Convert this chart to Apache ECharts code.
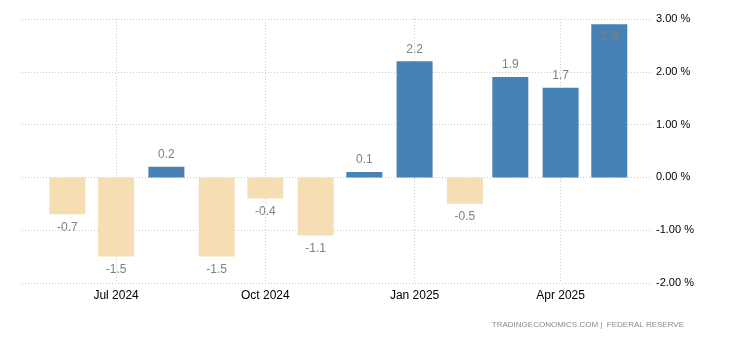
<!DOCTYPE html>
<html>
<head>
<meta charset="utf-8">
<script src="https://cdn.jsdelivr.net/npm/echarts@6/dist/echarts.min.js"></script>
<style>html,body{margin:0;padding:0;background:#fff}#c{width:730px;height:340px}</style>
</head>
<body>
<div id="c"></div>
<script>
var months = ['2024-06-01','2024-07-01','2024-08-01','2024-09-01','2024-10-01','2024-11-01','2024-12-01','2025-01-01','2025-02-01','2025-03-01','2025-04-01','2025-05-01'];
var values = [-0.7, -1.5, 0.2, -1.5, -0.4, -1.1, 0.1, 2.2, -0.5, 1.9, 1.7, 2.9];
var tickDates = ['2024-07-01','2024-10-01','2025-01-01','2025-04-01'];
var monthNames = ['Jan','Feb','Mar','Apr','May','Jun','Jul','Aug','Sep','Oct','Nov','Dec'];

function ts(s){var p=s.split('-');return Date.UTC(+p[0],+p[1]-1,+p[2]);}
var tickTs = tickDates.map(ts);
var data = months.map(function(m,i){
  var v = values[i];
  var item = {value:[ts(m), v], itemStyle:{color: v>=0 ? '#4682b4' : '#f5deb3'}};
  if (v > 2.6) item.label = {position:'insideTop', distance:6};
  else if (v < 0) item.label = {position:'bottom', distance:7};
  return item;
});

var chart = echarts.init(document.getElementById('c'));
chart.setOption({
  animation:false,
  grid:{left:22,right:78,top:19,bottom:57},
  xAxis:{
    type:'value',
    min: Date.UTC(2024,4,4),
    max: Date.UTC(2025,4,27,8),
    axisLine:{show:false},
    axisTick:{show:true,length:4,customValues:tickTs,lineStyle:{color:'#cccccc',type:[1,2]}},
    axisLabel:{customValues:tickTs,color:'#000',fontSize:12,fontFamily:'Liberation Sans, Arial',margin:7,
      formatter:function(v){var d=new Date(v);return monthNames[d.getUTCMonth()]+' '+d.getUTCFullYear();}},
    splitLine:{show:true,lineStyle:{color:'#cccccc',type:[1,2]}}
  },
  yAxis:{
    type:'value',position:'right',min:-2,max:3,interval:1,
    axisLine:{show:false},axisTick:{show:false},
    axisLabel:{color:'#000',fontSize:11,fontFamily:'Liberation Sans, Arial',margin:4,
      formatter:function(v){return v.toFixed(2)+' %';}},
    splitLine:{lineStyle:{color:'#cccccc',type:[1,2]}}
  },
  series:[{
    type:'bar',barWidth:36,data:data,
    label:{show:true,position:'top',distance:6,color:'#808080',fontSize:12,fontFamily:'Liberation Sans, Arial',
      formatter:function(p){return p.value[1].toFixed(1);}}
  }],
  graphic:[{type:'text',right:46,top:321,style:{text:'TRADINGECONOMICS.COM |  FEDERAL RESERVE',fill:'#8a8a8a',fontSize:8,fontFamily:'Liberation Sans, Arial'}}]
});
</script>
</body>
</html>
